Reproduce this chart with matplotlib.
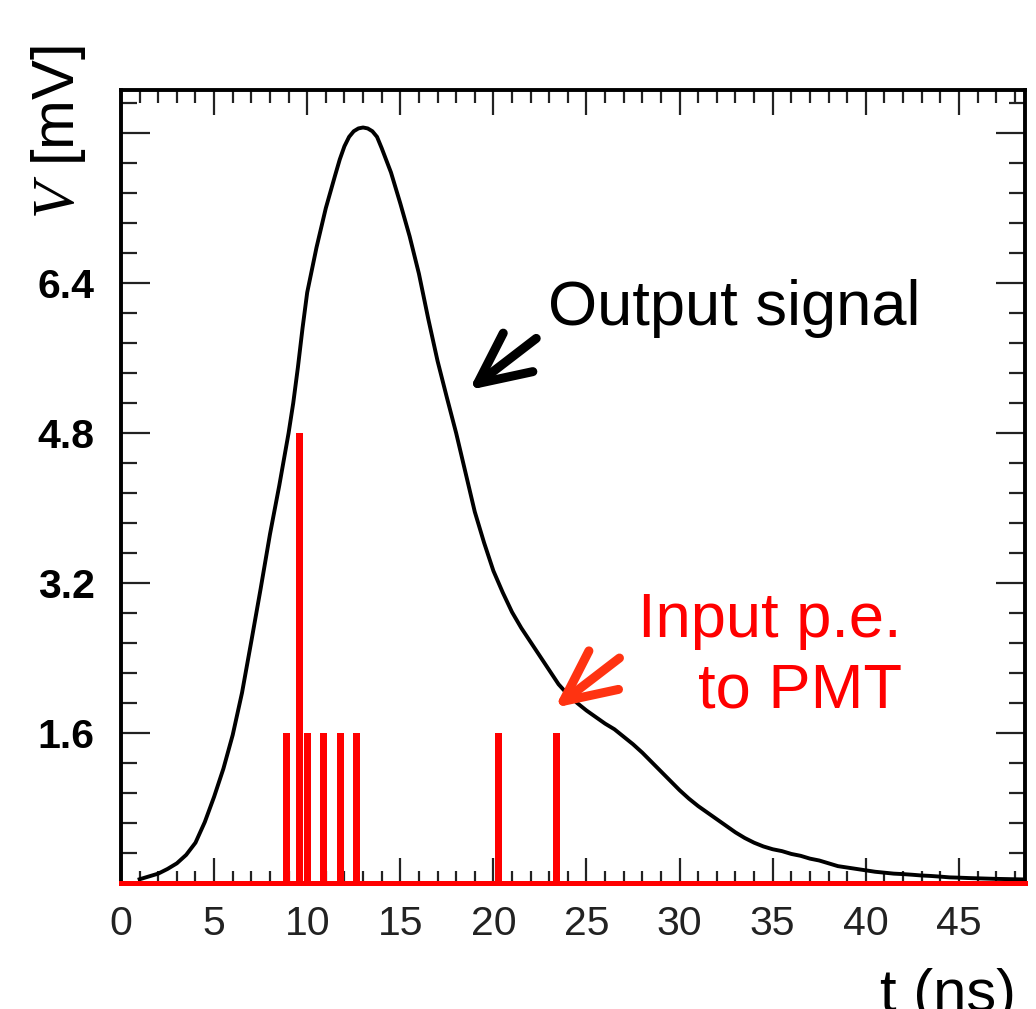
import matplotlib
matplotlib.use('Agg')
import matplotlib.pyplot as plt
from matplotlib.ticker import MultipleLocator, FixedLocator, FixedFormatter

plt.rcParams['font.family'] = ['Liberation Sans', 'DejaVu Sans']
plt.rcParams['mathtext.fontset'] = 'custom'
plt.rcParams['mathtext.it'] = 'Liberation Serif:italic'
plt.rcParams['mathtext.rm'] = 'Liberation Sans'

# Output signal
time_ns = [1.0, 1.5, 2.0, 2.5, 3.0, 3.5, 4.0, 4.5, 5.0, 5.5, 6.0, 6.5, 7.0, 7.5,
           8.0, 8.5, 9.0, 9.25, 9.5, 9.75, 10.0, 10.5, 11.0, 11.5, 11.75, 12.0,
           12.25, 12.5, 12.75, 13.0, 13.25, 13.5, 13.75, 14.0, 14.5, 15.0, 15.5,
           16.0, 16.5, 17.0, 17.5, 18.0, 18.5, 19.0,
           19.5, 20.0, 20.5, 21.0, 21.5, 22.0, 22.5, 23.0, 23.5, 24.0, 24.5,
           25.0, 25.5, 26.0, 26.5, 27.0, 27.5, 28.0, 28.5, 29.0, 29.5, 30.0,
           30.5, 31.0, 31.5, 32.0, 32.5, 33.0, 33.5, 34.0, 34.5, 35.0, 35.5,
           36.0, 36.5, 37.0, 37.5, 38.0, 38.5, 39.0, 39.5, 40.0, 40.5, 41.0,
           41.5, 42.0, 42.5, 43.0, 43.5, 44.0, 44.5, 45.0, 45.5, 46.0, 46.5,
           47.0, 47.5, 48.0, 48.5]
output_mV = [0.04, 0.07, 0.10, 0.15, 0.21, 0.30, 0.43, 0.65, 0.92, 1.22, 1.58,
             2.03, 2.58, 3.14, 3.72, 4.24, 4.80, 5.12, 5.50, 5.92, 6.30, 6.78,
             7.20, 7.55, 7.72, 7.86, 7.96, 8.02, 8.05, 8.06, 8.05, 8.02, 7.96,
             7.84, 7.58, 7.25, 6.90, 6.50, 6.02, 5.57,
             5.18, 4.80, 4.38, 3.96, 3.63, 3.33, 3.10, 2.89, 2.72, 2.57, 2.42,
             2.27, 2.12, 2.01, 1.92, 1.84, 1.77, 1.70, 1.64, 1.56, 1.48, 1.39,
             1.29, 1.19, 1.09, 0.99, 0.90, 0.82, 0.75, 0.68, 0.61, 0.54, 0.48,
             0.43, 0.39, 0.36, 0.34, 0.31, 0.29, 0.26, 0.24, 0.21, 0.18, 0.165,
             0.15, 0.135, 0.12, 0.11, 0.10, 0.095, 0.088, 0.08, 0.075, 0.068,
             0.06, 0.057, 0.053, 0.05, 0.047, 0.044, 0.042, 0.04, 0.038]

# Input photo-electrons
pe_time_ns = [8.89, 9.59, 10.0, 10.86, 11.79, 12.63, 20.27, 23.37]
pe_height_mV = [1.6, 4.8, 1.6, 1.6, 1.6, 1.6, 1.6, 1.6]

xtick_vals = [0, 5, 10, 15, 20, 25, 30, 35, 40, 45]
xtick_labels = ['0', '5', '10', '15', '20', '25', '30', '35', '40', '45']
ytick_vals = [1.6, 3.2, 4.8, 6.4, 8.0]
ytick_labels = ['1.6', '3.2', '4.8', '6.4', '']

W, H = 1036, 1009
fig = plt.figure(figsize=(W / 100, H / 100), dpi=100)
ax = fig.add_axes([121 / W, 1 - 883 / H, 904 / W, 793 / H])

ax.plot(time_ns, output_mV, color='black', lw=2.8, zorder=3,
        solid_joinstyle='round')
ax.bar(pe_time_ns, pe_height_mV, width=0.38, color='#ff0000', linewidth=0, zorder=4)
ax.axhline(0, color='#ff0000', lw=3.6, zorder=5, clip_on=False)

ax.set_xlim(0, 48.55)
ax.set_ylim(0, 8.46)

ax.xaxis.set_major_locator(FixedLocator(xtick_vals))
ax.xaxis.set_major_formatter(FixedFormatter(xtick_labels))
ax.xaxis.set_minor_locator(MultipleLocator(1))
ax.yaxis.set_major_locator(FixedLocator(ytick_vals))
ax.yaxis.set_major_formatter(FixedFormatter(ytick_labels))
ax.yaxis.set_minor_locator(MultipleLocator(0.32))

ax.tick_params(which='both', direction='in', top=True, right=True, width=1.6, color='#222222')
ax.tick_params(axis='x', which='major', length=18, pad=16, labelsize=29.5, labelcolor='#222222')
ax.tick_params(axis='x', which='minor', length=9)
ax.tick_params(axis='y', which='major', length=21, pad=19, labelsize=29.5)
ax.tick_params(axis='y', which='minor', length=11.5)
for lbl in ax.get_yticklabels():
    lbl.set_fontweight('bold')
for sp in ax.spines.values():
    sp.set_linewidth(2.8)

ax.annotate('', xy=(18.7, 5.26), xytext=(22.3, 5.81),
            arrowprops=dict(arrowstyle='->,head_length=0.8,head_width=0.38',
                            mutation_scale=46, lw=6.5, color='black',
                            shrinkA=0, shrinkB=0, capstyle='round', joinstyle='round'),
            zorder=6)
ax.annotate('', xy=(23.3, 1.87), xytext=(26.77, 2.40),
            arrowprops=dict(arrowstyle='->,head_length=0.8,head_width=0.38',
                            mutation_scale=46, lw=6.5, color='#ff3311',
                            shrinkA=0, shrinkB=0, capstyle='round', joinstyle='round'),
            zorder=6)

fig.text(548 / W, 1 - 325 / H, 'Output signal', fontsize=45.5, color='black',
         ha='left', va='baseline')
fig.text(902 / W, 1 - 637 / H, 'Input p.e.', fontsize=45.5, color='#ff0000',
         ha='right', va='baseline')
fig.text(902 / W, 1 - 707 / H, 'to PMT', fontsize=45.5, color='#ff0000',
         ha='right', va='baseline')
fig.text(880 / W, 1 - 1011 / H, 't (ns)', fontsize=43, color='black',
         ha='left', va='baseline')
fig.text(58 / W, 1 - 45 / H, r'$V$ [mV]', fontsize=43, color='black',
         rotation=90, ha='center', va='top')

fig.savefig('out.png', dpi=100)
